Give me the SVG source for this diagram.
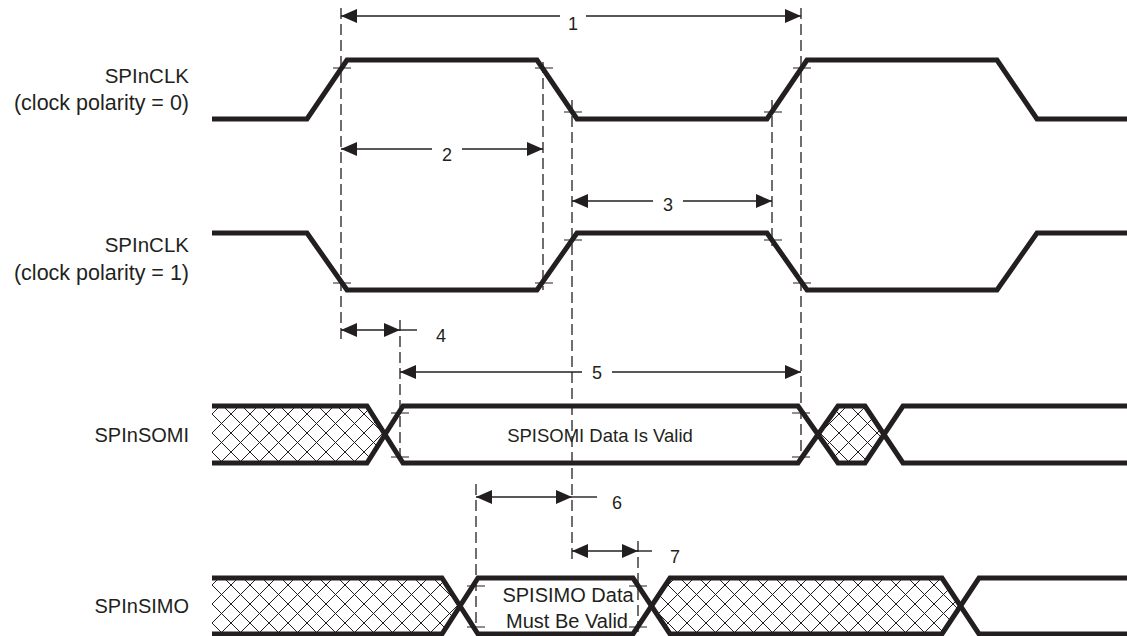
<svg xmlns="http://www.w3.org/2000/svg" width="1127" height="636" viewBox="0 0 1127 636">
<style>
.wave{fill:none;stroke:#231f20;stroke-width:5;stroke-linejoin:miter;}
.dash{fill:none;stroke:#231f20;stroke-width:1.3;stroke-dasharray:11,5;}
.dim{fill:none;stroke:#231f20;stroke-width:1.4;}
.tick{fill:none;stroke:#231f20;stroke-width:1.2;}
.hatchfill{fill:url(#hatch);stroke:none;}
.lbl{font-family:"Liberation Sans",Arial,sans-serif;font-size:20px;fill:#231f20;}
.pol{font-size:21.5px;}
.num{font-family:"Liberation Sans",Arial,sans-serif;font-size:18px;fill:#231f20;text-anchor:middle;}
</style>
<defs>
<marker id="ah" markerUnits="userSpaceOnUse" markerWidth="17" markerHeight="15" refX="16" refY="7" orient="auto-start-reverse">
<path d="M0,0 L16,7 L0,14 z" fill="#231f20"/>
</marker>
<pattern id="hatch" patternUnits="userSpaceOnUse" x="212" y="15" width="19" height="19">
<path d="M0,0 L19,19 M19,0 L0,19" stroke="#231f20" stroke-width="1" fill="none"/>
</pattern>
</defs>
<rect width="1127" height="636" fill="#ffffff"/>

<g id="labels">
<text class="lbl" x="189" y="83" text-anchor="end" style="font-size:20.5px">SPInCLK</text>
<text class="lbl pol" x="189" y="110" text-anchor="end">(clock polarity = 0)</text>
<text class="lbl" x="189" y="252" text-anchor="end" style="font-size:20.5px">SPInCLK</text>
<text class="lbl pol" x="189" y="280" text-anchor="end">(clock polarity = 1)</text>
<text class="lbl" x="189" y="442" text-anchor="end">SPInSOMI</text>
<text class="lbl" x="189" y="613" text-anchor="end">SPInSIMO</text>
</g>

<g id="clk0">
<path class="wave" d="M212,119 H307 L347,60 H537 L577,119 H767 L807,60 H997 L1037,119 H1127"/>
</g>
<g id="clk1">
<path class="wave" d="M212,233 H307 L347,290 H537 L577,233 H767 L807,290 H997 L1037,233 H1127"/>
</g>

<g id="somi">
<path class="hatchfill" d="M212,406 H367 L385,434.5 L367,463 H212 Z"/>
<path class="hatchfill" d="M838,406 H865 L884,434.5 L865,463 H838 L818,434.5 Z"/>
<path class="wave" d="M212,406 H367 L403,463 H798 L838,406 H865 L903,463 H1127"/>
<path class="wave" d="M212,463 H367 L403,406 H798 L838,463 H865 L903,406 H1127"/>
<text class="lbl" x="600" y="442" text-anchor="middle" style="font-size:18.5px">SPISOMI Data Is Valid</text>
</g>

<g id="simo">
<path class="hatchfill" d="M212,578 H442 L460,606 L442,634 H212 Z"/>
<path class="hatchfill" d="M670,578 H942 L960,606 L942,634 H670 L651,606 Z"/>
<path class="wave" d="M212,578 H442 L478,634 H633 L670,578 H942 L979,634 H1127"/>
<path class="wave" d="M212,634 H442 L478,578 H633 L670,634 H942 L979,578 H1127"/>
<text class="lbl" x="568" y="602" text-anchor="middle">SPISIMO Data</text>
<text class="lbl" x="567" y="628" text-anchor="middle">Must Be Valid</text>
</g>

<g id="connectors">
<path class="dash" d="M341,8 V342"/>
<path class="dash" d="M543,62 V290"/>
<path class="dash" d="M572,100 V560"/>
<path class="dash" d="M772,100 V246"/>
<path class="dash" d="M801,8 V462"/>
<path class="dash" d="M400,320 V462"/>
<path class="dash" d="M476,484 V634"/>
<path class="dash" d="M638,541 V634"/>
<path class="tick" d="M333,68 H351 M535,68 H553 M564,112 H582 M764,112 H782 M793,68 H811"/>
<path class="tick" d="M333,283 H351 M535,283 H553 M564,240 H582 M764,240 H782 M793,283 H811"/>
<path class="tick" d="M391,413 H409 M391,457 H409 M792,413 H810 M792,457 H810"/>
<path class="tick" d="M467,586 H485 M467,627 H485 M629,586 H647 M629,627 H647"/>
<path class="dim" d="M341,16 H560" marker-start="url(#ah)"/>
<path class="dim" d="M586,16 H801" marker-end="url(#ah)"/>
<text class="num" x="573" y="30">1</text>
<path class="dim" d="M341,149 H432" marker-start="url(#ah)"/>
<path class="dim" d="M462,149 H543" marker-end="url(#ah)"/>
<text class="num" x="447" y="161">2</text>
<path class="dim" d="M572,201 H653" marker-start="url(#ah)"/>
<path class="dim" d="M683,201 H772" marker-end="url(#ah)"/>
<text class="num" x="668" y="211">3</text>
<path class="dim" d="M341,330 H400" marker-start="url(#ah)" marker-end="url(#ah)"/>
<path class="dim" d="M400,330 H417"/>
<text class="num" x="441" y="342">4</text>
<path class="dim" d="M400,372 H582" marker-start="url(#ah)"/>
<path class="dim" d="M612,372 H801" marker-end="url(#ah)"/>
<text class="num" x="597" y="379">5</text>
<path class="dim" d="M476,497 H572" marker-start="url(#ah)" marker-end="url(#ah)"/>
<path class="dim" d="M572,497 H597"/>
<text class="num" x="617" y="509">6</text>
<path class="dim" d="M572,551 H638" marker-start="url(#ah)" marker-end="url(#ah)"/>
<path class="dim" d="M638,551 H652"/>
<text class="num" x="675" y="563">7</text>
</g>
</svg>
